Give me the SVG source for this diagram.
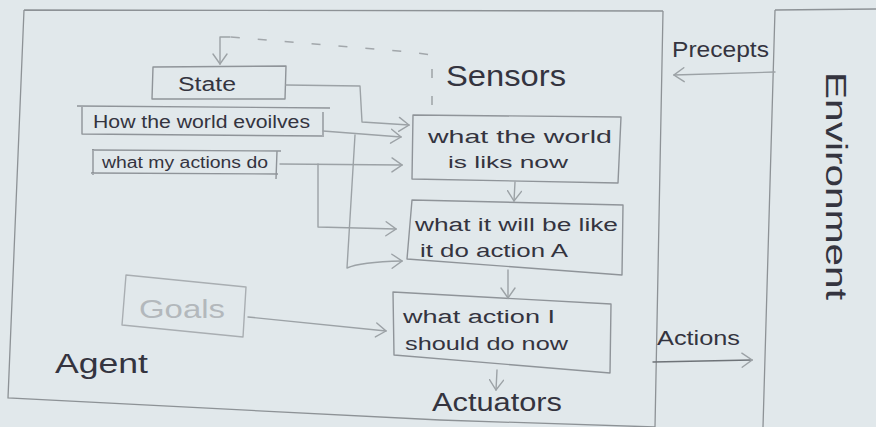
<svg xmlns="http://www.w3.org/2000/svg" width="876" height="427" viewBox="0 0 876 427">
<style>
.bg{fill:#e1e8eb}
.frame{fill:none;stroke:#8d9296;stroke-width:1.3}
.box{fill:none;stroke:#8f9499;stroke-width:1.4;stroke-linejoin:round}
.con{fill:none;stroke:#9ca2a6;stroke-width:1.4;stroke-linecap:round;stroke-linejoin:round}
.dash{fill:none;stroke:#a2a7ab;stroke-width:1.6;stroke-dasharray:9 18}
.t{font-family:"Liberation Sans","DejaVu Sans",sans-serif;fill:#34343f}
.light{fill:#b3b8bc}
</style>
<defs>
<marker id="ah" viewBox="0 0 12 16" refX="11" refY="8" markerWidth="12" markerHeight="16" markerUnits="userSpaceOnUse" orient="auto">
<path d="M1 1 L11 8 L1 15" fill="none" stroke="#9ca2a6" stroke-width="1.4" stroke-linecap="round"/>
</marker>
</defs>
<rect class="bg" x="0" y="0" width="876" height="427"/>

<g id="agent">
<path class="frame" d="M24 10 L663 11 M24 10 L8 398 L440 420 L655 427 M663 11 L655 427"/>
<text class="t" x="55" y="373" font-size="27" textLength="93" lengthAdjust="spacingAndGlyphs">Agent</text>
</g>

<g id="environment">
<path class="frame" d="M775 10 L876 9 M775 10 L763 427"/>
<text class="t" transform="translate(826,72) rotate(90)" x="0" y="0" font-size="30" textLength="228" lengthAdjust="spacingAndGlyphs">Environment</text>
</g>

<g id="state">
<polygon class="box" points="153,67 286,66 285,99 152,99"/>
<text class="t" x="178" y="91" font-size="20" textLength="58" lengthAdjust="spacingAndGlyphs">State</text>
</g>

<g id="how-world-evolves">
<path class="box" d="M77 106 L330 108 M82 106 L82 134 L322 136 M323 112 L323 137"/>
<text class="t" x="93" y="128" font-size="18" textLength="217" lengthAdjust="spacingAndGlyphs">How the world evoilves</text>
</g>

<g id="what-my-actions-do">
<path class="box" d="M92 150 L281 151 M93 149 L93 175 M91 173 L278 174 M277 151 L276 179"/>
<text class="t" x="102" y="168" font-size="16" textLength="166" lengthAdjust="spacingAndGlyphs">what my actions do</text>
</g>

<g id="sensors">
<text class="t" x="446" y="86" font-size="30" textLength="120" lengthAdjust="spacingAndGlyphs">Sensors</text>
</g>

<g id="world-now">
<polygon class="box" points="413,115 621,117 618,183 412,179"/>
<text class="t" x="428" y="143" font-size="19" textLength="184" lengthAdjust="spacingAndGlyphs">what the world</text>
<text class="t" x="448" y="168" font-size="17" textLength="120" lengthAdjust="spacingAndGlyphs">is liks now</text>
</g>

<g id="will-be-like">
<polygon class="box" points="412,200 623,205 622,275 407,259"/>
<text class="t" x="415" y="231" font-size="18" textLength="203" lengthAdjust="spacingAndGlyphs">what it will be like</text>
<text class="t" x="420" y="257" font-size="19" textLength="148" lengthAdjust="spacingAndGlyphs">it do action A</text>
</g>

<g id="what-action">
<polygon class="box" points="393,292 611,304 610,373 394,355"/>
<text class="t" x="403" y="323" font-size="18" textLength="152" lengthAdjust="spacingAndGlyphs">what action I</text>
<text class="t" x="405" y="350" font-size="19" textLength="163" lengthAdjust="spacingAndGlyphs">should do now</text>
</g>

<g id="goals">
<polygon class="box" points="126,275 246,287 243,337 122,325" style="stroke:#a9aeb2"/>
<text class="t light" x="139" y="318" font-size="25" textLength="86" lengthAdjust="spacingAndGlyphs">Goals</text>
</g>

<g id="actuators">
<text class="t" x="432" y="411" font-size="25" textLength="130" lengthAdjust="spacingAndGlyphs">Actuators</text>
</g>

<g id="connectors">
<path class="dash" d="M432 105 L432 55 L410 52 L230 37"/>
<path class="con" d="M230 37 L220 37 L220 64" marker-end="url(#ah)"/>
<path class="con" d="M286 85 L360 86 L362 122 L409 125" marker-end="url(#ah)"/>
<path class="con" d="M323 131 L401 137" marker-end="url(#ah)"/>
<path class="con" d="M280 164 L402 165" marker-end="url(#ah)"/>
<path class="con" d="M318 164 L318 227 L396 229" marker-end="url(#ah)"/>
<path class="con" d="M355 135 L347 268 Q360 262 402 261" marker-end="url(#ah)"/>
<path class="con" d="M248 317 L386 331" marker-end="url(#ah)"/>
<path class="con" d="M515 182 L514 201" marker-end="url(#ah)"/>
<path class="con" d="M508 270 L508 298" marker-end="url(#ah)"/>
<path class="con" d="M497 370 L496 390" marker-end="url(#ah)"/>
<path class="con" d="M775 72 L674 75" marker-end="url(#ah)"/>
<path class="con" d="M653 362 L752 360" marker-end="url(#ah)" style="stroke:#6e7378"/>
<text class="t" x="672" y="57" font-size="22" textLength="97" lengthAdjust="spacingAndGlyphs">Precepts</text>
<text class="t" x="657" y="345" font-size="20" textLength="83" lengthAdjust="spacingAndGlyphs">Actions</text>
</g>
</svg>
